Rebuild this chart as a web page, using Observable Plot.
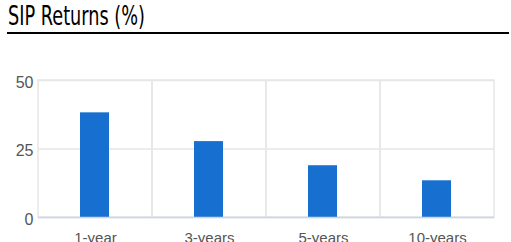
<!DOCTYPE html>
<html>
<head>
<meta charset="utf-8">
<script src="https://cdn.jsdelivr.net/npm/d3@7"></script>
<script src="https://cdn.jsdelivr.net/npm/@observablehq/plot@0.6"></script>
<style>
  html, body { margin: 0; padding: 0; background: #fff; width: 511px; height: 242px; overflow: hidden; }
  #title {
    margin: 0 2px 0 7px;
    padding: 0 0 0 1px;
    height: 32px;
    line-height: 31px;
    font-family: "DejaVu Sans", sans-serif;
    font-size: 27px;
    color: #000;
    border-bottom: 2px solid #000;
    box-sizing: content-box;
    white-space: nowrap;
  }
  #title span { display: inline-block; transform-origin: 0 50%; }
  svg { display: block; }
</style>
</head>
<body>
<div id="title"><span id="tspan">SIP Returns (%)</span></div>
<div id="chart"></div>
<script>
const periods = ["1-year", "3-years", "5-years", "10-years"];
const returns = [38.2, 27.7, 18.9, 13.4];
const yTicks = [0, 25, 50];

const data = periods.map((p, i) => ({period: p, value: returns[i]}));

// fit the title to the narrow width of the reference's condensed font
const tspan = document.getElementById("tspan");
const tw = tspan.getBoundingClientRect().width;
tspan.style.transform = `scaleX(${137 / tw})`;

const chart = Plot.plot({
  width: 511,
  height: 208,
  marginTop: 46,
  marginBottom: 25,
  marginLeft: 38,
  marginRight: 17,
  style: {fontFamily: "'Liberation Sans', Arial, sans-serif", background: "#fff"},
  x: {domain: periods, padding: 0, label: null},
  y: {domain: [0, 50], label: null},
  marks: [
    Plot.gridY(yTicks, {stroke: "#e6e6e6", strokeOpacity: 1, strokeWidth: 1.5}),
    Plot.cell(periods, {x: d => d, fill: "none", stroke: "#e6e6e6", strokeWidth: 1.5}),
    Plot.barY(data, {x: "period", y: "value", fill: "#1770d0", insetLeft: 42, insetRight: 43}),
    Plot.ruleY([0], {stroke: "#c9d5ea", strokeWidth: 1.5}),
    Plot.axisY(yTicks, {tickSize: 0, tickPadding: 5, fontSize: 16, fill: "#555", dy: 2, label: null}),
    Plot.axisX({tickSize: 0, tickPadding: 15, fontSize: 15, fill: "#555", label: null})
  ]
});
document.getElementById("chart").appendChild(chart);
</script>
</body>
</html>
